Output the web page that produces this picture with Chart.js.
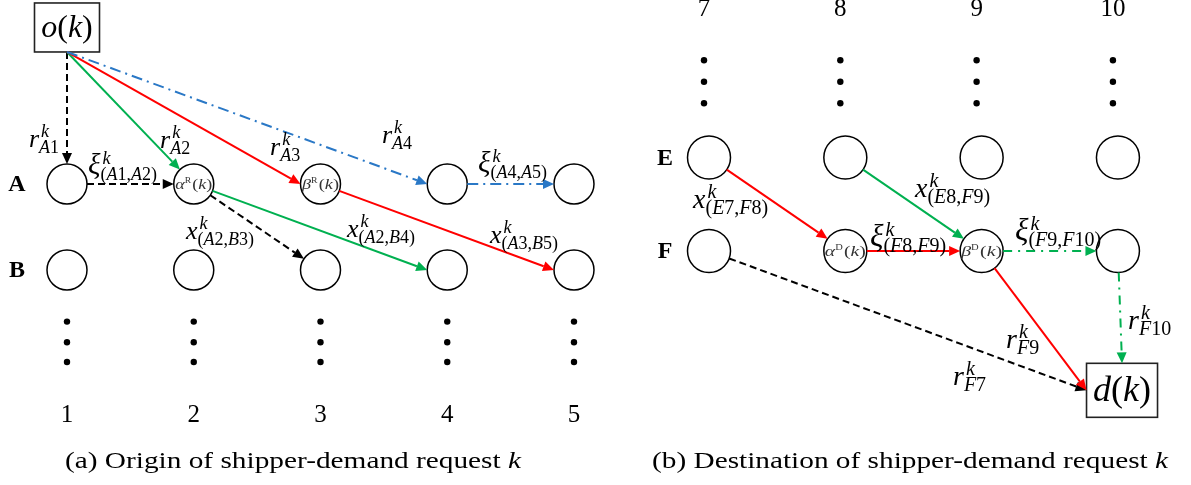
<!DOCTYPE html>
<html>
<head>
<meta charset="utf-8">
<script src="https://cdn.jsdelivr.net/npm/chart.js@4.4.1/dist/chart.umd.min.js"></script>
<style>
  html, body { margin: 0; padding: 0; background: #fff; }
  #wrap { position: relative; width: 1191px; height: 485px; overflow: hidden; }
  .panel { position: absolute; top: 0; height: 485px; }
  #panelA { left: 0; width: 600px; }
  #panelB { left: 600px; width: 591px; }
</style>
</head>
<body>
<div id="wrap">
  <div class="panel" id="panelA"><canvas id="chartA" width="600" height="485"></canvas></div>
  <div class="panel" id="panelB"><canvas id="chartB" width="591" height="485"></canvas></div>
</div>
<script>
// (a) origin of shipper-demand request k
const colsA = [1, 2, 3, 4, 5]
const rowsA = ["A", "B"]
const boxesA = [["o", "o(k)", 1, -1.82]]
const dotRowsA = [1.6, 1.84, 2.07]
const innerA = { A2: ["α", "R"], A3: ["β", "R"] }
const edgesA = [
  ["o", "A1", "r", "A1"],
  ["A1", "A2", "ξ", "(A1,A2)"],
  ["o", "A2", "r", "A2"],
  ["o", "A3", "r", "A3"],
  ["o", "A4", "r", "A4"],
  ["A4", "A5", "ξ", "(A4,A5)"],
  ["A2", "B3", "x", "(A2,B3)"],
  ["A2", "B4", "x", "(A2,B4)"],
  ["A3", "B5", "x", "(A3,B5)"]
]
const kindA = ["dash", "dash", "green", "red", "blueDot", "blueDot", "dash", "green", "red"]
const captionA = ["(a) Origin of shipper-demand request ", "k"]

// (b) destination of shipper-demand request k
const colsB = [7, 8, 9, 10]
const rowsB = ["E", "F"]
const boxesB = [["d", "d(k)", 10.03, 2.49]]
const dotRowsB = [-1.04, -0.81, -0.58]
const innerB = { F8: ["α", "D"], F9: ["β", "D"] }
const edgesB = [
  ["E7", "F8", "x", "(E7,F8)"],
  ["E8", "F9", "x", "(E8,F9)"],
  ["F8", "F9", "ξ", "(F8,F9)"],
  ["F9", "F10", "ξ", "(F9,F10)"],
  ["F7", "d", "r", "F7"],
  ["F9", "d", "r", "F9"],
  ["F10", "d", "r", "F10"]
]
const kindB = ["red", "green", "red", "greenDot", "dash", "red", "greenDot"]
const captionB = ["(b) Destination of shipper-demand request ", "k"]

const FONT = '"Liberation Serif", "DejaVu Serif", serif'
const STYLE = {
  dash: { color: "#000000", dash: [7, 4] },
  green: { color: "#00b050", dash: [] },
  red: { color: "#ff0000", dash: [] },
  blueDot: { color: "#2a78c6", dash: [11, 5, 2, 5] },
  greenDot: { color: "#00b050", dash: [9, 6, 2, 6] }
}

const layoutA = {
  width: 600, xMin: 0.4714, xMax: 5.2052, yMin: -2.1395, yMax: 3.5,
  radius: 20, rowLabelCol: 0.605, numberRow: 2.767, shift: 0,
  baseSize: 26, scriptSize: 18, box: [65, 49], boxFont: 32, innerW: 37,
  ports: { "o-A3": "W", "o-A4": "W", "A2-B4": "W", "A3-B5": "W" },
  labelAt: [[0.700, -0.430], [1.166, -0.116], [1.734, -0.419], [2.602, -0.337], [3.485, -0.477],
            [4.243, -0.140], [1.939, 0.640], [3.209, 0.616], [4.337, 0.686]],
  caption: [65, 468, 456]
}
const layoutB = {
  width: 591, xMin: 6.2003, xMax: 10.536, yMin: -1.6845, yMax: 3.5027,
  radius: 21.5, rowLabelCol: 6.677, numberRow: -1.513, shift: -5,
  baseSize: 28, scriptSize: 20, box: [71, 54], boxFont: 36, innerW: 41,
  ports: { "F7-d": "W", "F9-d": "W", "F10-d": "N" },
  labelAt: [[6.883, 0.540], [8.511, 0.422], [8.181, 0.947], [9.245, 0.882],
            [8.790, 2.433], [9.179, 2.037], [10.074, 1.834]],
  caption: [52, 468, 516]
}

function isLetter(ch) {
  return /[A-Za-z\u03b1-\u03c9]/.test(ch)
}

function runWidth(ctx, str, size) {
  let w = 0
  for (const ch of str) {
    ctx.font = (isLetter(ch) ? "italic " : "") + size + "px " + FONT
    w += ctx.measureText(ch).width
  }
  return w
}

function drawRun(ctx, str, x, y, size) {
  for (const ch of str) {
    ctx.font = (isLetter(ch) ? "italic " : "") + size + "px " + FONT
    ctx.fillText(ch, x, y)
    x += ctx.measureText(ch).width
  }
  return x
}

function drawScripted(ctx, x, y, base, sub, L) {
  const size = base === "ξ" ? L.baseSize * 1.12 : L.baseSize
  const end = drawRun(ctx, base, x, y, size)
  drawRun(ctx, "k", end + 2, y - L.baseSize * 0.37, L.scriptSize)
  drawRun(ctx, sub, end, y + L.baseSize * 0.22, L.scriptSize)
}

function drawArrow(ctx, a, b, style) {
  const ang = Math.atan2(b[1] - a[1], b[0] - a[0])
  const len = 11, half = 5
  const bx = b[0] - len * Math.cos(ang), by = b[1] - len * Math.sin(ang)
  ctx.strokeStyle = style.color
  ctx.fillStyle = style.color
  ctx.lineWidth = 2
  ctx.setLineDash(style.dash)
  ctx.beginPath()
  ctx.moveTo(a[0], a[1])
  ctx.lineTo(bx, by)
  ctx.stroke()
  ctx.setLineDash([])
  ctx.beginPath()
  ctx.moveTo(b[0], b[1])
  ctx.lineTo(bx - half * Math.sin(ang), by + half * Math.cos(ang))
  ctx.lineTo(bx + half * Math.sin(ang), by - half * Math.cos(ang))
  ctx.closePath()
  ctx.fill()
}

function makePanel(canvasId, cols, rows, boxes, dotRows, inner, edges, kinds, caption, L) {
  const nodes = {}
  cols.forEach(c => rows.forEach((r, i) => { nodes[r + c] = { x: c, y: i, kind: "circle" } }))
  boxes.forEach(([id, text, c, r]) => { nodes[id] = { x: c, y: r, kind: "box", text } })

  const circleData = Object.keys(nodes).filter(k => nodes[k].kind === "circle")
    .map(k => ({ x: nodes[k].x, y: nodes[k].y }))
  const unit = L.width / (L.xMax - L.xMin)
  const dotData = []
  cols.forEach(c => dotRows.forEach(r => dotData.push({ x: c + L.shift / unit, y: r })))

  function portPoint(n, port) {
    const hw = n.kind === "box" ? L.box[0] / 2 : L.radius
    const hh = n.kind === "box" ? L.box[1] / 2 : L.radius
    if (port === "W") return [n.px - hw, n.py]
    if (port === "E") return [n.px + hw, n.py]
    if (port === "N") return [n.px, n.py - hh]
    return [n.px, n.py + hh]
  }
  function towards(n, pt) {
    const dx = pt[0] - n.px, dy = pt[1] - n.py, d = Math.hypot(dx, dy)
    return [n.px + L.radius * dx / d, n.py + L.radius * dy / d]
  }

  const diagram = {
    id: "diagram",
    afterDatasetsDraw(chart) {
      const ctx = chart.ctx
      const xs = chart.scales.x, ys = chart.scales.y
      Object.values(nodes).forEach(n => {
        n.px = xs.getPixelForValue(n.x)
        n.py = ys.getPixelForValue(n.y)
      })
      ctx.save()

      // boxes o(k) / d(k)
      boxes.forEach(([id]) => {
        const n = nodes[id]
        ctx.strokeStyle = "#222"
        ctx.lineWidth = 1.6
        ctx.strokeRect(n.px - L.box[0] / 2, n.py - L.box[1] / 2, L.box[0], L.box[1])
        ctx.fillStyle = "#000"
        ctx.textBaseline = "alphabetic"
        ctx.textAlign = "left"
        const w = runWidth(ctx, n.text, L.boxFont)
        drawRun(ctx, n.text, n.px - w / 2, n.py + L.boxFont * 0.3, L.boxFont)
      })

      // edges
      edges.forEach(([from, to], i) => {
        const a = nodes[from], b = nodes[to]
        const port = L.ports[from + "-" + to]
        const ref = a.kind === "box" ? portPoint(a, "S") : [a.px, a.py]
        const end = port ? portPoint(b, port) : towards(b, ref)
        const start = a.kind === "box" ? portPoint(a, "S") : towards(a, end)
        drawArrow(ctx, start, end, STYLE[kinds[i]])
      })

      // edge labels
      ctx.fillStyle = "#000"
      ctx.textAlign = "left"
      ctx.textBaseline = "alphabetic"
      edges.forEach(([, , base, sub], i) => {
        const at = L.labelAt[i]
        drawScripted(ctx, xs.getPixelForValue(at[0]), ys.getPixelForValue(at[1]), base, sub, L)
      })

      // alpha / beta labels inside circles
      Object.keys(inner).forEach(id => {
        const n = nodes[id]
        const [greek, tag] = inner[id]
        const gs = 15, ts = 8
        ctx.font = "italic " + gs + "px " + FONT
        const wg = ctx.measureText(greek).width
        ctx.font = ts + "px " + FONT
        const wt = ctx.measureText(tag).width
        const wk = runWidth(ctx, "(k)", gs)
        const total = wg + wt + 1 + wk
        ctx.save()
        ctx.translate(n.px, n.py + 5)
        ctx.scale(L.innerW / total, 1)
        ctx.fillStyle = "#333"
        let x = -total / 2
        ctx.font = "italic " + gs + "px " + FONT
        ctx.fillText(greek, x, 0)
        x += wg
        ctx.font = ts + "px " + FONT
        ctx.fillText(tag, x, -6)
        x += wt + 1
        drawRun(ctx, "(k)", x, 0, gs)
        ctx.restore()
      })

      // row letters and column numbers
      ctx.fillStyle = "#000"
      ctx.textAlign = "center"
      ctx.textBaseline = "middle"
      ctx.font = "bold 24px " + FONT
      rows.forEach((r, i) => {
        ctx.fillText(r, xs.getPixelForValue(L.rowLabelCol), ys.getPixelForValue(i) + 1)
      })
      ctx.textBaseline = "alphabetic"
      ctx.font = "25px " + FONT
      cols.forEach(c => {
        ctx.fillText(String(c), xs.getPixelForValue(c) + L.shift, ys.getPixelForValue(L.numberRow))
      })

      // caption
      const [cx, cy, cw] = L.caption
      ctx.font = "23px " + FONT
      const w1 = ctx.measureText(caption[0]).width
      ctx.font = "italic 23px " + FONT
      const w2 = ctx.measureText(caption[1]).width
      ctx.save()
      ctx.translate(cx, cy)
      ctx.scale(cw / (w1 + w2), 1)
      ctx.textAlign = "left"
      ctx.font = "23px " + FONT
      ctx.fillText(caption[0], 0, 0)
      ctx.font = "italic 23px " + FONT
      ctx.fillText(caption[1], w1, 0)
      ctx.restore()

      ctx.restore()
    }
  }

  return new Chart(document.getElementById(canvasId), {
    type: "scatter",
    data: {
      datasets: [
        {
          data: circleData,
          pointRadius: L.radius,
          pointHoverRadius: L.radius,
          pointBackgroundColor: "#ffffff",
          pointBorderColor: "#000000",
          pointBorderWidth: 1.5
        },
        {
          data: dotData,
          pointRadius: 3.2,
          pointBackgroundColor: "#000000",
          pointBorderWidth: 0
        }
      ]
    },
    options: {
      responsive: false,
      devicePixelRatio: 1,
      animation: false,
      events: [],
      layout: { padding: 0, autoPadding: false },
      plugins: { legend: { display: false }, tooltip: { enabled: false } },
      scales: {
        x: { type: "linear", min: L.xMin, max: L.xMax, display: false },
        y: { type: "linear", min: L.yMin, max: L.yMax, reverse: true, display: false }
      }
    },
    plugins: [diagram]
  })
}

makePanel("chartA", colsA, rowsA, boxesA, dotRowsA, innerA, edgesA, kindA, captionA, layoutA)
makePanel("chartB", colsB, rowsB, boxesB, dotRowsB, innerB, edgesB, kindB, captionB, layoutB)
</script>
</body>
</html>
